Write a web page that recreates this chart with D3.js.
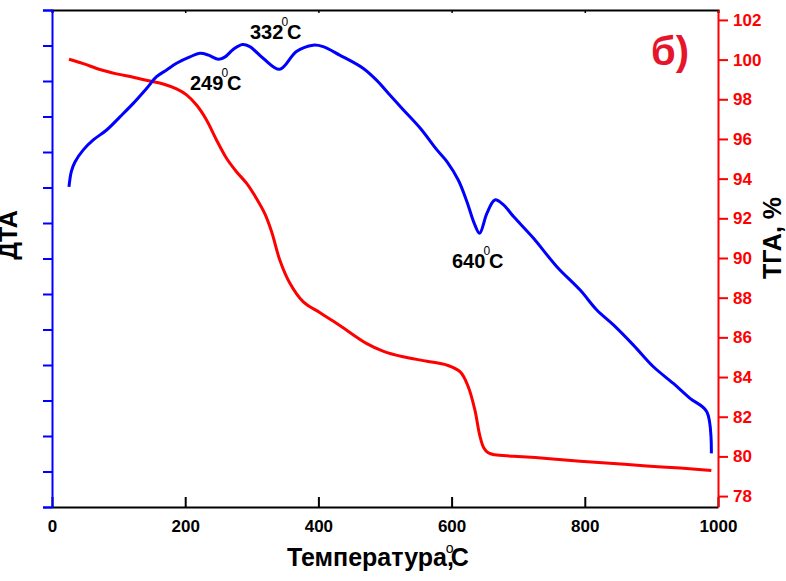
<!DOCTYPE html>
<html>
<head>
<meta charset="utf-8">
<script src="https://cdn.jsdelivr.net/npm/d3@7"></script>
<style>
  html, body { margin: 0; padding: 0; background: #fff; }
  svg { display: block; font-family: "Liberation Sans", Arial, sans-serif; }
</style>
</head>
<body>
<svg id="chart" width="786" height="581"></svg>
<script>
// ---- Data ----
const xTicks = [0, 200, 400, 600, 800, 1000];
const tgaTicks = [78, 80, 82, 84, 86, 88, 90, 92, 94, 96, 98, 100, 102];
const dtaTicks = d3.range(0, 15);

// DTA curve (arbitrary units, no labels on the axis)
const dtaT = [25.5, 29, 34.5, 47, 62, 82, 102, 122, 142, 157, 172, 187, 207, 222, 235, 250, 260, 272, 286, 297, 317, 342, 367, 392, 407, 432, 467, 488, 507, 527, 553, 578, 593, 610, 623, 634, 642, 653, 665, 678, 693, 723, 758, 793, 818, 843, 873, 903, 933, 958, 983, 990];
const dtaV = [9.02, 9.45, 9.72, 10.06, 10.34, 10.62, 10.99, 11.37, 11.79, 12.12, 12.31, 12.50, 12.68, 12.78, 12.73, 12.61, 12.68, 12.89, 13.03, 12.97, 12.64, 12.33, 12.83, 13.01, 12.97, 12.73, 12.36, 12.01, 11.61, 11.20, 10.67, 10.06, 9.73, 9.21, 8.60, 7.99, 7.71, 8.27, 8.65, 8.51, 8.18, 7.57, 6.77, 6.11, 5.55, 5.13, 4.56, 3.95, 3.48, 3.06, 2.69, 1.51];

// TGA curve (%)
const tgaT = [25.5, 47, 72, 97, 122, 147, 167, 187, 202, 217, 232, 247, 262, 277, 292, 307, 320, 330, 342, 357, 377, 402, 422, 442, 472, 497, 527, 563, 593, 613, 625, 635, 642, 648, 655, 665, 693, 743, 793, 843, 893, 943, 990];
const tgaV = [100.02, 99.80, 99.50, 99.28, 99.11, 98.92, 98.77, 98.52, 98.22, 97.71, 96.96, 95.95, 95.03, 94.35, 93.77, 93.00, 92.2, 91.3, 89.9, 88.74, 87.80, 87.25, 86.82, 86.37, 85.70, 85.31, 85.02, 84.80, 84.60, 84.26, 83.51, 82.33, 81.10, 80.45, 80.18, 80.08, 80.01, 79.90, 79.76, 79.64, 79.52, 79.41, 79.29];

// Peak annotations
const peakLabels = ["249", "332", "640"];

// ---- Layout ----
const L = 52, R = 718, T = 10, B = 507;
const svg = d3.select("#chart");

const x = d3.scaleLinear().domain([0, 1000]).range([L, R]);
const yT = d3.scaleLinear().domain([77.45, 102.5]).range([B, T]);
const yD = d3.scaleLinear().domain([0, 14]).range([B, T]);

// Top border with small ticks
const gTop = svg.append("g").attr("transform", `translate(0,${T})`)
  .call(d3.axisTop(x).tickValues(xTicks).tickSize(-3).tickFormat(""));
gTop.select(".domain").attr("stroke", "#000").attr("stroke-width", 2);
gTop.selectAll(".tick line").attr("stroke", "#000").attr("stroke-width", 1.5);

// Bottom axis
const gB = svg.append("g").attr("transform", `translate(0,${B})`)
  .call(d3.axisBottom(x).tickValues(xTicks).tickFormat(d3.format("d"))
    .tickSizeInner(-10).tickSizeOuter(0).tickPadding(13));
gB.select(".domain").attr("stroke", "#000").attr("stroke-width", 2);
gB.selectAll(".tick line").attr("stroke", "#000").attr("stroke-width", 2);
gB.selectAll(".tick text").attr("fill", "#000").style("font-size", "17px").style("font-weight", "bold");

// Left DTA axis (blue, no labels)
const gL = svg.append("g").attr("transform", `translate(${L},0)`)
  .call(d3.axisLeft(yD).tickValues(dtaTicks).tickSize(9).tickFormat(""));
gL.select(".domain").attr("stroke", "#0000ff").attr("stroke-width", 2);
gL.selectAll(".tick line").attr("stroke", "#0000ff").attr("stroke-width", 2);

// Right TGA axis (red)
const gR = svg.append("g").attr("transform", `translate(${R},0)`)
  .call(d3.axisRight(yT).tickValues(tgaTicks).tickSizeInner(10).tickSizeOuter(0).tickPadding(5));
gR.select(".domain").attr("stroke", "#ff0000").attr("stroke-width", 2);
gR.selectAll(".tick line").attr("stroke", "#ff0000").attr("stroke-width", 2);
gR.selectAll(".tick text").attr("fill", "#ff0000").style("font-size", "17px").style("font-weight", "bold");

// Curves
const dta = dtaT.map((t, i) => [t, dtaV[i]]);
const tga = tgaT.map((t, i) => [t, tgaV[i]]);
const smooth = d3.curveCatmullRom.alpha(0.5);

svg.append("path").datum(tga)
  .attr("fill", "none").attr("stroke", "#ff0000").attr("stroke-width", 3)
  .attr("stroke-linejoin", "round")
  .attr("d", d3.line().x(d => x(d[0])).y(d => yT(d[1])).curve(smooth));

svg.append("path").datum(dta)
  .attr("fill", "none").attr("stroke", "#0000ff").attr("stroke-width", 3)
  .attr("stroke-linejoin", "round")
  .attr("d", d3.line().x(d => x(d[0])).y(d => yD(d[1])).curve(smooth));

// Peak labels
function peak(px, py, num) {
  const t = svg.append("text").attr("x", px).attr("y", py)
    .attr("fill", "#000").style("font-size", "20px").style("font-weight", "bold");
  t.append("tspan").text(num);
  t.append("tspan").attr("dx", -2).attr("dy", -13).style("font-size", "12px").style("font-weight", "normal").text("0");
  t.append("tspan").attr("dx", -1).attr("dy", 13).text("C");
}
peak(250, 39, peakLabels[1]);
peak(190, 90, peakLabels[0]);
peak(452, 268, peakLabels[2]);

// Panel label
svg.append("text").attr("x", 651).attr("y", 65)
  .attr("fill", "#e5162c").style("font-size", "40px").style("font-weight", "bold")
  .text("б)");

// Axis titles
const xt = svg.append("text").attr("x", 287).attr("y", 566)
  .attr("fill", "#000").style("font-size", "25px").style("font-weight", "bold");
xt.append("tspan").text("Температура,");
xt.append("tspan").attr("dx", -8).attr("dy", -13).style("font-size", "14px").style("font-weight", "normal").text("o");
xt.append("tspan").attr("dx", -3).attr("dy", 13).text("C");

svg.append("text").attr("transform", "translate(17,235) rotate(-90)")
  .attr("text-anchor", "middle").attr("fill", "#000")
  .style("font-size", "25px").style("font-weight", "bold").text("ДТА");

svg.append("text").attr("transform", "translate(781,238) rotate(-90)")
  .attr("text-anchor", "middle").attr("fill", "#000")
  .style("font-size", "25px").style("font-weight", "bold").text("ТГА, %");
</script>
</body>
</html>
